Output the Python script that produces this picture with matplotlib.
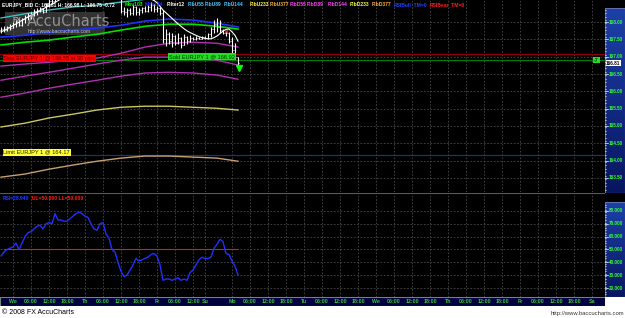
import matplotlib
matplotlib.use("Agg")
import matplotlib.pyplot as plt
from matplotlib.patches import Rectangle
from matplotlib.colors import LinearSegmentedColormap
import numpy as np

W, H = 625, 318
plt.rcParams['font.family'] = ['Liberation Sans', 'DejaVu Sans']

# ---------------- data (hourly bars, bar 0 = Wednesday 00:00) ----------------
bars = np.arange(-4, 76)
opens = [167.76, 167.80, 167.78, 167.86, 167.84, 167.95, 168.00, 167.92, 168.08, 168.15,
         168.20, 168.22, 168.32, 168.36, 168.40, 168.30, 168.50, 168.62, 168.60, 168.90,
         168.85, 168.92, 168.88, 168.95, 169.05, 169.12, 169.20, 169.22, 169.15, 169.08,
         169.10, 168.95, 168.90, 169.00, 169.05, 168.92, 168.82, 168.78, 168.72, 168.70,
         168.66, 168.32, 168.28, 168.35, 168.25, 168.45, 168.30, 168.35, 168.40, 168.32,
         168.45, 168.50, 168.38, 168.42, 168.25, 167.50, 167.65, 167.45, 167.60, 167.40,
         167.55, 167.35, 167.58, 167.45, 167.55, 167.52, 167.55, 167.52, 167.56, 167.54,
         167.65, 167.80, 167.95, 167.85, 167.78, 167.70, 167.68, 167.45, 167.20, 166.98]
highs = [167.85, 167.88, 167.90, 167.95, 168.00, 168.05, 168.10, 168.12, 168.20, 168.25,
         168.30, 168.38, 168.42, 168.45, 168.42, 168.55, 168.70, 168.75, 168.95, 169.00,
         168.98, 169.02, 169.00, 169.10, 169.18, 169.25, 169.30, 169.28, 169.22, 169.20,
         169.12, 169.00, 169.05, 169.12, 169.10, 168.98, 168.90, 168.85, 168.80, 168.75,
         168.68, 168.45, 168.40, 168.42, 168.50, 168.48, 168.40, 168.45, 168.48, 168.50,
         168.58, 168.52, 168.48, 168.44, 168.35, 167.80, 167.72, 167.68, 167.62, 167.68,
         167.58, 167.66, 167.60, 167.62, 167.58, 167.60, 167.58, 167.60, 167.60, 167.68,
         167.86, 168.05, 168.12, 168.06, 167.80, 167.75, 167.71, 167.57, 167.39, 166.98]
lows = [167.70, 167.72, 167.74, 167.78, 167.82, 167.85, 167.88, 167.90, 167.98, 168.05,
        168.10, 168.18, 168.22, 168.28, 168.25, 168.28, 168.45, 168.52, 168.58, 168.78,
        168.80, 168.82, 168.80, 168.90, 168.98, 169.05, 169.10, 169.08, 169.00, 169.00,
        168.90, 168.82, 168.85, 168.95, 168.88, 168.78, 168.72, 168.68, 168.66, 168.66,
        168.25, 168.20, 168.15, 168.20, 168.22, 168.22, 168.20, 168.25, 168.28, 168.30,
        168.32, 168.30, 168.28, 168.20, 167.40, 167.30, 167.38, 167.28, 167.34, 167.38,
        167.25, 167.33, 167.38, 167.42, 167.47, 167.48, 167.50, 167.50, 167.52, 167.50,
        167.57, 167.68, 167.72, 167.70, 167.65, 167.60, 167.39, 167.10, 166.96, 166.75]
closes = [167.80, 167.78, 167.86, 167.84, 167.95, 168.00, 167.92, 168.08, 168.15, 168.20,
          168.22, 168.32, 168.36, 168.40, 168.30, 168.50, 168.62, 168.60, 168.90, 168.85,
          168.92, 168.88, 168.95, 169.05, 169.12, 169.20, 169.22, 169.15, 169.08, 169.10,
          168.95, 168.90, 169.00, 169.05, 168.92, 168.82, 168.78, 168.72, 168.70, 168.66,
          168.32, 168.28, 168.35, 168.25, 168.45, 168.30, 168.35, 168.40, 168.32, 168.45,
          168.50, 168.38, 168.42, 168.25, 167.50, 167.65, 167.45, 167.60, 167.40, 167.55,
          167.35, 167.58, 167.45, 167.55, 167.52, 167.55, 167.52, 167.56, 167.54, 167.65,
          167.80, 167.95, 167.85, 167.78, 167.70, 167.68, 167.45, 167.20, 166.98, 166.81]
filter12 = [167.72, 167.76, 167.80, 167.85, 167.90, 167.95, 168.00, 168.05, 168.10, 168.15,
            168.19, 168.24, 168.29, 168.33, 168.38, 168.43, 168.47, 168.52, 168.57, 168.62,
            168.67, 168.72, 168.76, 168.80, 168.84, 168.88, 168.91, 168.94, 168.96, 168.98,
            168.99, 168.99, 168.98, 168.97, 168.96, 168.94, 168.92, 168.90, 168.87, 168.84,
            168.81, 168.78, 168.75, 168.73, 168.71, 168.70, 168.69, 168.68, 168.68, 168.67,
            168.66, 168.63, 168.56, 168.46, 168.35, 168.27, 168.19, 168.11, 168.03, 167.95,
            167.88, 167.81, 167.75, 167.70, 167.66, 167.62, 167.58, 167.55, 167.53, 167.52,
            167.52, 167.55, 167.60, 167.67, 167.74, 167.79, 167.80, 167.72, 167.62, 167.45]
rsi = [45, 48, 50, 51, 52, 55, 50, 55, 60, 63,
       64, 66, 68, 69, 66, 70, 71, 70, 78, 73,
       73, 72, 72, 74, 76, 78, 79, 78, 76, 75,
       70, 66, 65, 70, 71, 62, 59, 50, 48, 40,
       33, 29, 30, 34, 38, 43, 41, 42, 43, 44,
       46, 47, 45, 38, 26, 27, 27, 26, 27, 28,
       26, 27, 26, 32, 34, 38, 42, 44, 43, 43,
       44, 51, 54, 58, 56, 47, 46, 41, 37, 30]

# moving averages / fib bands, sampled every 8 bars
band_bars = [-4, 4, 12, 20, 28, 36, 44, 52, 60, 68, 75]
fibu55 = [168.12, 168.24, 168.35, 168.44, 168.49, 168.58, 168.66, 168.72, 168.76, 168.78, 168.77]
mov144 = [167.57, 167.62, 167.71, 167.77, 167.83, 167.91, 168.03, 168.09, 168.06, 167.97, 167.86]
mov103 = [167.34, 167.42, 167.48, 167.57, 167.65, 167.77, 167.88, 167.94, 167.94, 167.88, 167.80]
fibd55 = [166.73, 166.79, 166.84, 166.90, 166.96, 167.10, 167.28, 167.39, 167.42, 167.39, 167.28]
fibd89 = [166.32, 166.44, 166.55, 166.67, 166.79, 166.90, 166.99, 166.99, 166.96, 166.90, 166.76]
fibd144 = [165.83, 165.95, 166.09, 166.21, 166.32, 166.44, 166.53, 166.55, 166.53, 166.47, 166.35]
fibd233 = [164.97, 165.08, 165.23, 165.34, 165.46, 165.54, 165.57, 165.57, 165.54, 165.51, 165.46]
fibd377 = [163.52, 163.61, 163.75, 163.87, 163.98, 164.07, 164.13, 164.13, 164.10, 164.07, 163.98]

stop_level, sold_level, limit_level = 167.07, 166.92, 164.17
last_price = 166.81

# time axis labels
time_ticks = [0, 6, 12, 18, 24, 30, 36, 42, 48, 54, 60, 64, 73, 79, 85, 91,
              97, 103, 109, 115, 121, 127, 133, 139, 145, 151, 157, 163, 169, 175, 181, 187, 193]
time_labels = ["We", "06:00", "12:00", "18:00", "Th", "06:00", "12:00", "18:00", "Fr", "06:00", "12:00",
               "Su", "Mo", "06:00", "12:00", "18:00", "Tu", "06:00", "12:00", "18:00",
               "We", "06:00", "12:00", "18:00", "Th", "06:00", "12:00", "18:00",
               "Fr", "06:00", "12:00", "18:00", "Sa"]
price_ticks = [163.5, 164.0, 164.5, 165.0, 165.5, 166.0, 166.5, 167.0, 167.5, 168.0]
rsi_ticks = [20, 30, 40, 50, 60, 70, 80]

header = [("EURJPY_BID C: 166.81 H: 166.98 L: 166.75 -0.72", "#ffffff"),
          ("Mov103", "#00ff00"), ("Mov144", "#2030ff"), ("Filter12", "#ffffff"),
          ("FibU55", "#40c8ff"), ("FibU89", "#40c8ff"), ("FibU144", "#40c8ff"),
          ("FibU233", "#ffff40"), ("FibU377", "#ffb040"),
          ("FibD55", "#ff40ff"), ("FibD89", "#ff40ff"), ("FibD144", "#ff40ff"),
          ("FibD233", "#ffff40"), ("FibD377", "#ffb040"),
          ("RSIBull_TM=0", "#2040ff"), ("RSIBear_TM=0", "#ff2020")]
header_x = [2, 125, 145, 167, 188, 205, 224, 250, 270, 290, 307, 328, 350, 372, 394, 430]

# ---------------- layout helpers (pixels) ----------------
PPY = 34.6        # pixels per yen in the price pane
P_TOP = 168.64    # price at pixel row 0
PPR = 1.284       # pixels per RSI point
R_TOP = 94.0      # RSI at pixel row 193
X0 = -4.33        # bar at pixel column 0
PPB = 3.0         # pixels per bar

def px_axes(fig, x0, y0, x1, y1):
    ax = fig.add_axes([x0 / W, 1 - y1 / H, (x1 - x0) / W, (y1 - y0) / H])
    ax.set_axis_off()
    return ax

def xlim_px(x0, x1):
    return (X0 + x0 / PPB, X0 + x1 / PPB)

fig = plt.figure(figsize=(W / 100, H / 100), dpi=100)
fig.patch.set_facecolor("white")
bg = px_axes(fig, 0, 0, W, 306)
bg.add_patch(Rectangle((0, 0), 1, 1, transform=bg.transAxes, color="black"))
bg.add_patch(Rectangle((605 / W, 0), 20 / W, 9 / 306, transform=bg.transAxes, color="white"))

GRID = dict(color="#4a4a4a", lw=0.6, ls=(0, (2, 2)))
TXT_GREEN = "#33ff33"

# ---------------- price pane ----------------
ax = px_axes(fig, 0, 0, 605, 192)
ax.set_xlim(*xlim_px(0, 605))
ax.set_ylim(P_TOP - 192 / PPY, P_TOP)
for p in price_ticks:
    ax.axhline(p, **GRID)
for t in time_ticks:
    ax.axvline(t, **GRID)

ax.axhline(stop_level, color="#8a0000", lw=0.9)
ax.axhline(sold_level, color="#007a00", lw=0.9)
ax.axhline(limit_level, color="#22306a", lw=0.9)

ax.plot(band_bars, fibd377, color="#c8a070", lw=1.0)
ax.plot(band_bars, fibd233, color="#c8c860", lw=1.0)
ax.plot(band_bars, fibd144, color="#b030b0", lw=1.0)
ax.plot(band_bars, fibd89, color="#b030b0", lw=1.0)
ax.plot(band_bars, fibd55, color="#b030b0", lw=1.0)
ax.plot(band_bars, fibu55, color="#40c0c0", lw=1.0)
ax.plot(band_bars, mov103, color="#00e000", lw=1.2)
ax.plot(band_bars, mov144, color="#2030ff", lw=1.2)

o = np.array(opens); c = np.array(closes)
ax.vlines(bars, lows, highs, color="white", lw=0.8)
ax.hlines(o, bars - 0.45, bars, color="white", lw=0.6)
ax.hlines(c, bars, bars + 0.45, color="white", lw=0.6)
ax.plot(bars, filter12, color="white", lw=0.8)
ax.plot([71], [highs[75]], marker="x", color="#ff2020", ms=2, mew=0.8)
ax.plot([75.3], [last_price - 0.14], marker="v", color="#00ff00", ms=4)

box = dict(boxstyle="square,pad=0.15", lw=0)
ax.text(-3.2, stop_level - 0.12, "Stop EURJPY 1 @ 166.55 in 30 pips", fontsize=4.1, color="#400000",
        va="center", ha="left", bbox=dict(box, facecolor="#ff0000"))
ax.text(52, sold_level + 0.09, "Sold EURJPY 1 @ 166.92", fontsize=4.1, color="#003000",
        va="center", ha="left", bbox=dict(box, facecolor="#22dd22"))
ax.text(-3.2, limit_level + 0.07, "Limit EURJPY 1 @ 164.17", fontsize=4.1, color="#202000",
        va="center", ha="left", bbox=dict(box, facecolor="#ffff33"))
ax.text(194.5, sold_level - 0.02, "-7", fontsize=3.8, color="black", va="center", ha="center",
        bbox=dict(box, facecolor="#22dd22"))

# watermark
ax.add_patch(Rectangle((X0 + 5 / PPB, P_TOP - 35 / PPY), 100 / PPB, 23 / PPY,
                       facecolor="#909090", alpha=0.35, lw=0))
ax.text(X0 + 27 / PPB, P_TOP - 22 / PPY, "AccuCharts", fontsize=10.5, color="#a8a8a8",
        alpha=0.8, va="center", ha="left", family="DejaVu Sans")
ax.text(X0 + 17 / PPB, P_TOP - 21 / PPY, "FX", fontsize=5, color="#c0c0c0", alpha=0.8,
        va="center", ha="center", fontweight="bold")
ax.text(X0 + 28 / PPB, P_TOP - 32 / PPY, "http://www.baccucharts.com", fontsize=3.6,
        color="#c0c0c0", va="center", ha="left")

# ---------------- RSI pane ----------------
ar = px_axes(fig, 0, 193, 605, 297)
ar.set_xlim(*xlim_px(0, 605))
ar.set_ylim(R_TOP - 104 / PPR, R_TOP)
ar.axhline(R_TOP - 0.3 / PPR, color="#5a5a5a", lw=0.8)
for r in rsi_ticks:
    ar.axhline(r, **GRID)
for t in time_ticks:
    ar.axvline(t, **GRID)
ar.plot([bars[1], bars[-1]], [50, 50], color="#d02020", lw=0.8)
ar.plot(bars, rsi, color="#2030ff", lw=1.0)
ar.text(3 / 605, R_TOP - 5.5 / PPR, "RSI=28.940", transform=ar.get_yaxis_transform(),
        fontsize=3.6, color="#2040ff", fontweight="bold", va="center")
ar.text(32 / 605, R_TOP - 5.5 / PPR, "UL=50.000 LL=50.000", transform=ar.get_yaxis_transform(),
        fontsize=3.6, color="#ff2020", fontweight="bold", va="center")

# ---------------- right value panels ----------------
panel_cmap = LinearSegmentedColormap.from_list("p", ["#1d40a8", "#081660"])

def value_panel(y0, y1, ylim, ticks, fmt, minor):
    a = px_axes(fig, 605, y0, 625, y1)
    a.set_xlim(0, 1)
    a.set_ylim(*ylim)
    grad = np.linspace(0, 1, 64).reshape(-1, 1)
    a.imshow(grad, extent=(0, 1, ylim[0], ylim[1]), aspect="auto", origin="upper", cmap=panel_cmap)
    a.add_patch(Rectangle((0, 0), 1, 1, transform=a.transAxes, fill=False, ec="#6070b0", lw=0.8))
    for v in np.arange(ylim[0], ylim[1], minor):
        a.plot([0, 0.07], [v, v], color="white", lw=0.4)
    for v in ticks:
        a.plot([0, 0.15], [v, v], color="white", lw=0.5)
        a.text(0.18, v, fmt.format(v), fontsize=3.3, color=TXT_GREEN, va="center", ha="left",
               fontweight="bold")
    return a

pa = value_panel(8, 193, (P_TOP - 193 / PPY, P_TOP - 8 / PPY), price_ticks, "{:.2f}", 0.1)
pa.text(0.05, last_price, "{:.2f}".format(last_price), fontsize=3.3, color="black", va="center",
        ha="left", fontweight="bold", bbox=dict(boxstyle="square,pad=0.1", facecolor="white", lw=0))
value_panel(202, 297, (R_TOP - 104 / PPR, R_TOP - 9 / PPR), rsi_ticks, "{:.3f}", 2)

# ---------------- time bar ----------------
at = px_axes(fig, 0, 297, 605, 306)
at.set_xlim(*xlim_px(0, 605))
at.set_ylim(0, 1)
at.add_patch(Rectangle((0, 0), 1, 1, transform=at.transAxes, facecolor="#000040",
                       edgecolor="#6a8a6a", lw=0.8))
for t, lab in zip(time_ticks, time_labels):
    at.text(t, 0.45, lab, fontsize=3.8, color="#33cc33", ha="center", va="center", fontweight="bold")

# ---------------- header / footer ----------------
for (txt, col), x in zip(header, header_x):
    fig.text(x / W, 1 - 4.5 / H, txt, fontsize=3.6, color=col, fontweight="bold", va="center", ha="left")
fig.text(2 / W, 1 - 312 / H, "\u00a9 2008 FX AccuCharts", fontsize=5.0, color="black", va="center")
fig.text(624 / W, 1 - 313 / H, "http://www.baccucharts.com", fontsize=4.2, color="#333333",
         va="center", ha="right")

fig.savefig("out.png", dpi=100, facecolor=fig.get_facecolor())
